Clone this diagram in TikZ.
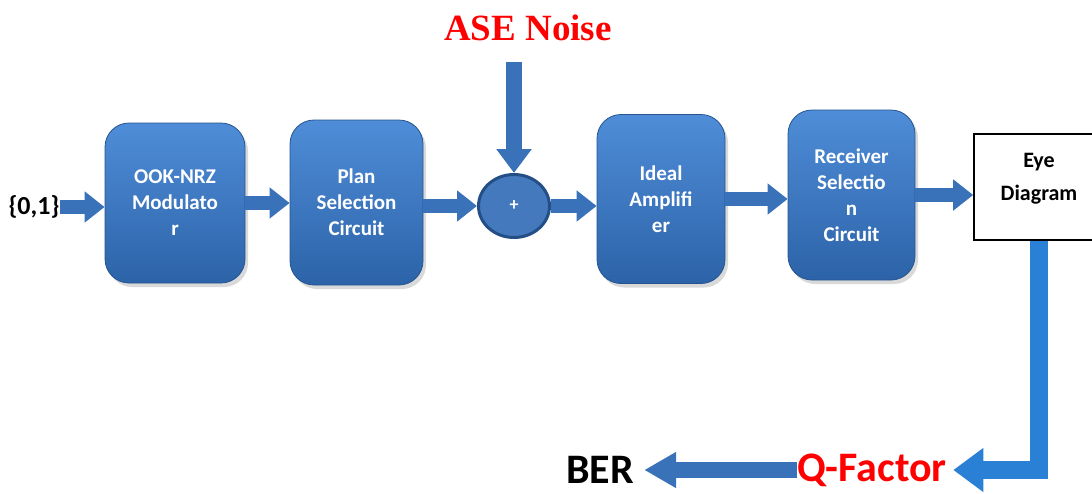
\documentclass[tikz,border=0pt]{standalone}
\usepackage{fontspec}
\setmainfont{Carlito}
\newfontfamily\noisefont{Liberation Serif}
\usetikzlibrary{arrows.meta,shapes.geometric,shadows,positioning}
\definecolor{boxtop}{HTML}{4F8DD8}
\definecolor{boxbot}{HTML}{2C63A8}
\definecolor{flowblue}{HTML}{3A72BA}
\definecolor{qblue}{HTML}{2A80D4}

\begin{document}
\begin{tikzpicture}[x=0.5pt,y=-0.5pt,
    main/.style = {rounded corners=12pt, top color=boxtop, bottom color=boxbot, draw=boxbot!85!black,
        text=white, align=center, inner sep=0pt, font=\bfseries\fontsize{10.5}{13}\selectfont,
        drop shadow={opacity=0.3,shadow xshift=1.5pt,shadow yshift=-2pt}},
    flow/.style = {line width=7pt, draw=flowblue, -{Triangle[length=10pt,width=15pt]}},
    word/.style = {inner sep=0pt, font=\bfseries\fontsize{21}{24}\selectfont}]
    \useasboundingbox (0,0) rectangle (1092,493);

    \node[inner sep=0pt, font=\bfseries\fontsize{13}{15}\selectfont] (0) at (34,207) {\{0,1\}};
    \node[main, minimum width=70pt, minimum height=80pt] (1) at (175,203) {OOK-NRZ\\Modulato\\r};
    \node[main, minimum width=66.5pt, minimum height=82.5pt] (2) at (356.5,202.5) {Plan\\Selection\\Circuit};
    \node[ellipse, fill=flowblue!95!white, draw=boxbot!80!black, line width=1.5pt, text=white,
        minimum width=35.5pt, minimum height=31.5pt, inner sep=0pt, font=\bfseries\small] (3) at (514,206) {+};
    \node[main, minimum width=64pt, minimum height=84.5pt] (4) at (661,199) {Ideal\\Amplifi\\er};
    \node[main, minimum width=63.5pt, minimum height=85pt] (5) at (851.5,195) {Receiver\\Selectio\\n\\Circuit};
    \node[draw=black, fill=white, line width=0.8pt, minimum width=65pt, minimum height=53pt,
        label={[yshift=4pt, align=center, font=\bfseries\fontsize{11}{16.5}\selectfont]center:Eye\\Diagram}] (6) at (1039,187) {};
    \node[word, text=red] (7) at (872,470) {Q-Factor};
    \node[word] (8) at (600,470) {BER};
    \node[inner sep=0pt, text=red, font=\noisefont\bfseries\fontsize{18.5}{20}\selectfont] (9) at (528,28) {ASE Noise};
    \coordinate (10) at (514,62);

    \draw[flow] (0.east) -- (0.east -| 1.west);
    \draw[flow] (1.east) -- (1.east -| 2.west);
    \draw[flow] (3.west -| 2.east) -- (3.west);
    \draw[flow, line width=8pt, -{Triangle[length=12pt,width=17pt]}] (10) -- (3.north);
    \draw[flow] (3.east) -- (3.east -| 4.west);
    \draw[flow] (4.east) -- (4.east -| 5.west);
    \draw[flow] (5.east) -- (5.east -| 6.west);
    \draw[flow, draw=qblue, line width=9pt, line join=miter, shorten >=3pt,
        -{Triangle[length=15pt,width=21pt]}] (6.south) -- (6.south |- 7) -- (7.east);
    \draw[flow, line width=8pt, shorten >=5pt, -{Triangle[length=16pt,width=17pt]}] (7.west) -- (8.east);
\end{tikzpicture}
\end{document}
